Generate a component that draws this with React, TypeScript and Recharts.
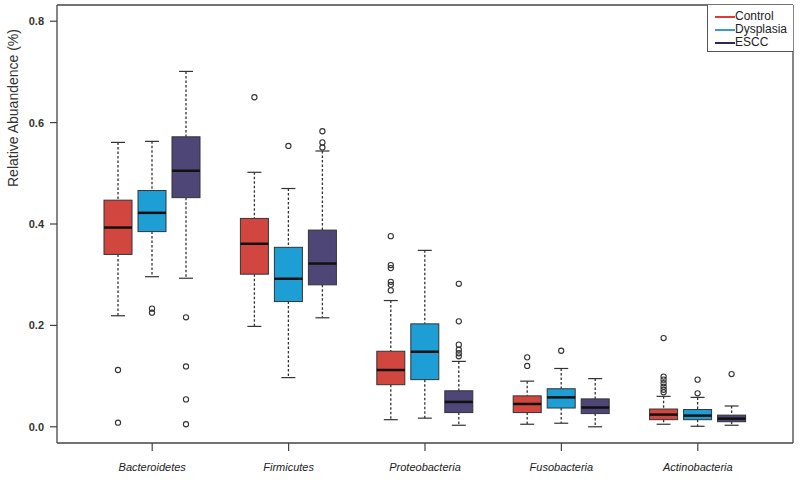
import React from 'react';
import { Bar, ComposedChart, Legend, XAxis, YAxis } from 'recharts';

const CATEGORIES = ['Bacteroidetes', 'Firmicutes', 'Proteobacteria', 'Fusobacteria', 'Actinobacteria'];
const SERIES = ['Control', 'Dysplasia', 'ESCC'];
const BOX_COLORS = ['#d1463e', '#1d9fd6', '#4e4677'];
const LEGEND_COLORS = ['#e0393a', '#3a9ad2', '#2b2b58'];
const Y_TICKS = [0, 0.2, 0.4, 0.6, 0.8];

// [lower whisker, Q1, median, Q3, upper whisker]
const CONTROL_STATS = [
  [0.219, 0.34, 0.393, 0.447, 0.561],
  [0.198, 0.301, 0.361, 0.411, 0.502],
  [0.014, 0.083, 0.112, 0.149, 0.249],
  [0.005, 0.028, 0.045, 0.061, 0.09],
  [0.005, 0.014, 0.024, 0.035, 0.06],
];
const DYSPLASIA_STATS = [
  [0.296, 0.385, 0.422, 0.466, 0.563],
  [0.097, 0.247, 0.292, 0.354, 0.47],
  [0.017, 0.093, 0.148, 0.203, 0.348],
  [0.007, 0.037, 0.058, 0.075, 0.115],
  [0.001, 0.014, 0.022, 0.034, 0.058],
];
const ESCC_STATS = [
  [0.293, 0.452, 0.505, 0.572, 0.701],
  [0.215, 0.28, 0.322, 0.388, 0.544],
  [0.003, 0.028, 0.049, 0.071, 0.129],
  [0.0, 0.026, 0.038, 0.055, 0.095],
  [0.003, 0.01, 0.016, 0.023, 0.041],
];

const CONTROL_OUTLIERS = [
  [0.112, 0.008],
  [0.65],
  [0.376, 0.319, 0.313, 0.286, 0.28, 0.269],
  [0.137, 0.12],
  [0.175, 0.099, 0.093, 0.086, 0.079, 0.073, 0.068],
];
const DYSPLASIA_OUTLIERS = [[0.233, 0.225], [0.554], [], [0.15], [0.093, 0.066]];
const ESCC_OUTLIERS = [[0.216, 0.119, 0.054, 0.005], [0.583, 0.561, 0.551], [0.282, 0.208, 0.162, 0.152, 0.145, 0.139], [], [0.104]];

const STATS = [CONTROL_STATS, DYSPLASIA_STATS, ESCC_STATS];
const OUTLIERS = [CONTROL_OUTLIERS, DYSPLASIA_OUTLIERS, ESCC_OUTLIERS];

const data = CATEGORIES.map((name, i) => {
  const row: Record<string, unknown> = { name };
  SERIES.forEach((s, k) => {
    const st = STATS[k][i];
    row[s] = [st[0], st[4]];
    row[`${s}Stats`] = st;
    row[`${s}Out`] = OUTLIERS[k][i];
  });
  return row;
});

const FONT = '"Liberation Sans", Arial, sans-serif';
const INK = '#333';
const FRAME = { stroke: '#444', strokeWidth: 1.3 };

function BoxShape(props: any) {
  const { x, y, width, height, payload, series, fill } = props;
  const [lo, q1, med, q3, hi] = payload[`${series}Stats`] as number[];
  const out = payload[`${series}Out`] as number[];
  // bar spans [lo, hi] in pixels, so map other stats linearly within it
  const toPx = (v: number) => y + height - ((v - lo) / (hi - lo)) * height;
  const cx = x + width / 2;
  const cap = width / 4;
  return (
    <g>
      <line x1={cx} x2={cx} y1={toPx(hi)} y2={toPx(q3)} stroke={INK} strokeWidth={1.3} strokeDasharray="2.5 2" />
      <line x1={cx} x2={cx} y1={toPx(q1)} y2={toPx(lo)} stroke={INK} strokeWidth={1.3} strokeDasharray="2.5 2" />
      <line x1={cx - cap} x2={cx + cap} y1={toPx(hi)} y2={toPx(hi)} stroke={INK} strokeWidth={1.2} />
      <line x1={cx - cap} x2={cx + cap} y1={toPx(lo)} y2={toPx(lo)} stroke={INK} strokeWidth={1.2} />
      <rect x={x} y={toPx(q3)} width={width} height={toPx(q1) - toPx(q3)} fill={fill} stroke={INK} strokeWidth={1} />
      <line x1={x} x2={x + width} y1={toPx(med)} y2={toPx(med)} stroke="#111" strokeWidth={2.5} />
      {out.map((v, j) => (
        <circle key={j} cx={cx} cy={toPx(v)} r={2.6} fill="none" stroke={INK} strokeWidth={1.1} />
      ))}
    </g>
  );
}

function YTitle(props: any) {
  const vb = props.viewBox || { x: 0, y: 5 };
  const cx = vb.x + 13;
  const cy = vb.y + 103;
  return (
    <text
      x={cx}
      y={cy}
      transform={`rotate(-90, ${cx}, ${cy})`}
      textAnchor="middle"
      dominantBaseline="central"
      fontFamily={FONT}
      fontSize={14}
      fill={INK}
    >
      Relative Abuandence (%)
    </text>
  );
}

function LegendBox() {
  return (
    <div
      style={{
        width: 86,
        height: 47,
        boxSizing: 'border-box',
        border: '1px solid #555',
        borderTop: 'none',
        borderRight: 'none',
        background: '#fff',
        paddingTop: 5,
        fontFamily: FONT,
        fontSize: 12,
        color: '#222',
      }}
    >
      {SERIES.map((s, k) => (
        <div key={s} style={{ display: 'flex', alignItems: 'center', height: 13 }}>
          <span style={{ display: 'inline-block', width: 20, height: 2, marginLeft: 7, background: LEGEND_COLORS[k] }} />
          <span style={{ lineHeight: '13px' }}>{s}</span>
        </div>
      ))}
    </div>
  );
}

export default function App() {
  return (
    <div style={{ position: 'absolute', left: 0, top: 0, width: 800, height: 482, background: '#fff' }}>
      <ComposedChart width={800} height={482} data={data} margin={{ top: 4, right: 6, bottom: 0, left: 0 }} barGap={6}>
        <XAxis
          dataKey="name"
          padding={{ left: 27, right: 27 }}
          height={39}
          tickSize={8}
          tickMargin={12}
          tick={{ fontSize: 11, fontStyle: 'italic', fontFamily: FONT, fill: '#222' }}
          axisLine={FRAME}
          tickLine={{ stroke: '#444', strokeWidth: 1.2 }}
        />
        <XAxis xAxisId="top" dataKey="name" orientation="top" height={1} tick={false} tickLine={false} axisLine={FRAME} />
        <YAxis
          type="number"
          domain={[-0.032, 0.832]}
          ticks={Y_TICKS}
          width={57}
          tickSize={7}
          tickMargin={6}
          tickFormatter={(v: number) => v.toFixed(1)}
          tick={{ fontSize: 11, fontFamily: FONT, fill: INK, fontWeight: 'bold' }}
          axisLine={FRAME}
          tickLine={{ stroke: '#444', strokeWidth: 1.2 }}
          label={<YTitle />}
        />
        <YAxis yAxisId="right" orientation="right" type="number" domain={[-0.032, 0.832]} width={1} tick={false} tickLine={false} axisLine={FRAME} />
        {SERIES.map((s, k) => (
          <Bar
            key={s}
            dataKey={s}
            barSize={28}
            fill={BOX_COLORS[k]}
            isAnimationActive={false}
            shape={(p: any) => <BoxShape {...p} series={s} fill={BOX_COLORS[k]} />}
          />
        ))}
        <Legend
          layout="horizontal"
          verticalAlign="middle"
          align="center"
          content={() => <LegendBox />}
          wrapperStyle={{ position: 'absolute', left: 707, top: 5, width: 86, height: 47 }}
        />
      </ComposedChart>
    </div>
  );
}
